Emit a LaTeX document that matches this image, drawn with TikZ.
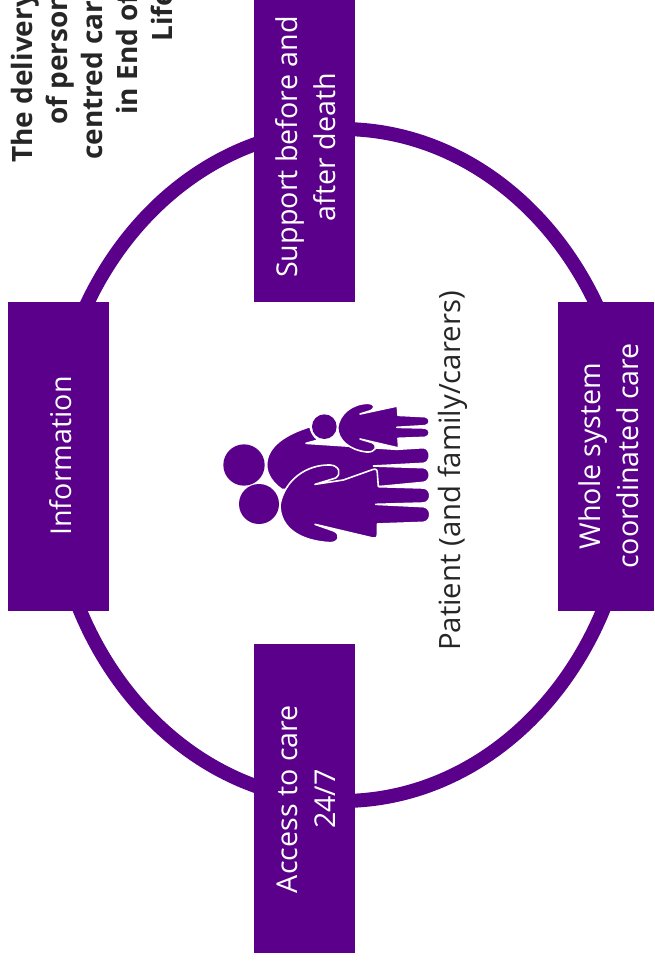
\documentclass[tikz,border=0pt]{standalone}
\usepackage{fontspec}
\setmainfont{Open Sans}
\definecolor{nhspurple}{HTML}{5A008A}
\definecolor{inktext}{HTML}{262626}
\tikzset{
  x=0.75pt,y=-0.75pt,
  boxtag/.style={text=white,rotate=90,align=center,inner sep=0pt,font=\fontsize{21.5}{28.5}\selectfont},
  headline/.style={text=inktext,rotate=90,anchor=base west,inner sep=0pt,font=\bfseries\fontsize{21}{26}\selectfont},
  ring/.style={draw=nhspurple,line width=10.5pt},
  figure/.style={fill=nhspurple,draw=white,line width=1.2pt,line join=round},
  blob/.style={circle,fill=nhspurple,draw=none,inner sep=0pt},
}
\begin{document}
\begin{tikzpicture}
\useasboundingbox (0,0) rectangle (654,968);
\clip (0,0) rectangle (654,968);
\fill[white] (0,0) rectangle (654,968);
\draw[ring] (341.5,465) ellipse [x radius=290,y radius=336];
% boxes
\fill[nhspurple] (254,-2) rectangle (355,302);
\fill[nhspurple] (8,302) rectangle (109,611);
\fill[nhspurple] (558,302) rectangle (654,611);
\fill[nhspurple] (254,644) rectangle (355,953);
\node[boxtag] (support) at (306,147) {Support before and\\after death};
\node[boxtag] (info) at (61,456) {Information};
\node[boxtag] (whole) at (609,456) {Whole system\\coordinated care};
\node[boxtag] (access) at (306,799) {Access to care\\24/7};
\node[text=inktext,rotate=90,inner sep=0pt,font=\fontsize{22}{28}\selectfont] (patient) at (453,471) {Patient (and family/carers)};
\node[headline] (t1) at (32,163) {The delivery};
\node[headline] (t2) at (67,125) {of person};
\node[headline] (t3) at (102,160) {centred care};
\node[headline] (t4) at (137,115) {in End of};
\node[headline] (t5) at (172,42) {Life};
% family icon
\begin{scope}[shift={(210,390)},x=0.25pt,y=-0.25pt]
\node[blob,minimum size=31pt] (h1) at (102,225) {};
% back adult
\path[figure] (300,110) .. controls (225,133) and (170,170) .. (170,225)
  .. controls (170,255) and (190,280) .. (215,298) -- (400,300)
  -- (640,277) .. controls (664,274) and (664,236) .. (640,233)
  -- (490,228) -- (640,220) .. controls (664,217) and (664,176) .. (640,173)
  -- (560,178) -- (288,160) -- (325,150) .. controls (310,140) and (303,125) .. (300,110) -- cycle;
% adult in front
\node[blob,minimum size=30pt] (h2) at (147,342) {};
\path[figure] (210,345) .. controls (223,270) and (290,223) .. (360,225)
  .. controls (388,226) and (395,252) .. (377,264) -- (315,283) -- (400,270) -- (490,238)
  .. controls (499,236) and (502,240) .. (502,250) -- (505,290) -- (640,294)
  .. controls (666,296) and (666,337) .. (640,339) -- (497,343) -- (640,350)
  .. controls (666,353) and (666,394) .. (640,397) -- (502,402) -- (502,434)
  .. controls (502,444) and (495,446) .. (488,444) -- (315,403) -- (372,423)
  .. controls (394,433) and (387,459) .. (360,458)
  .. controls (280,454) and (210,420) .. (210,345) -- cycle;
% child
\node[blob,minimum size=18.5pt] (h3) at (343,110) {};
\path[figure] (383,112) .. controls (388,73) and (425,40) .. (475,40)
  .. controls (494,40) and (497,55) .. (482,62) -- (450,72) -- (562,48) -- (564,76) -- (645,80)
  .. controls (662,82) and (662,105) .. (645,107) -- (560,112) -- (645,114)
  .. controls (662,116) and (662,140) .. (645,142) -- (564,145) -- (566,174) -- (450,147)
  -- (487,158) .. controls (505,168) and (497,188) .. (470,186)
  .. controls (418,180) and (383,150) .. (383,112) -- cycle;
\end{scope}
\end{tikzpicture}
\end{document}
